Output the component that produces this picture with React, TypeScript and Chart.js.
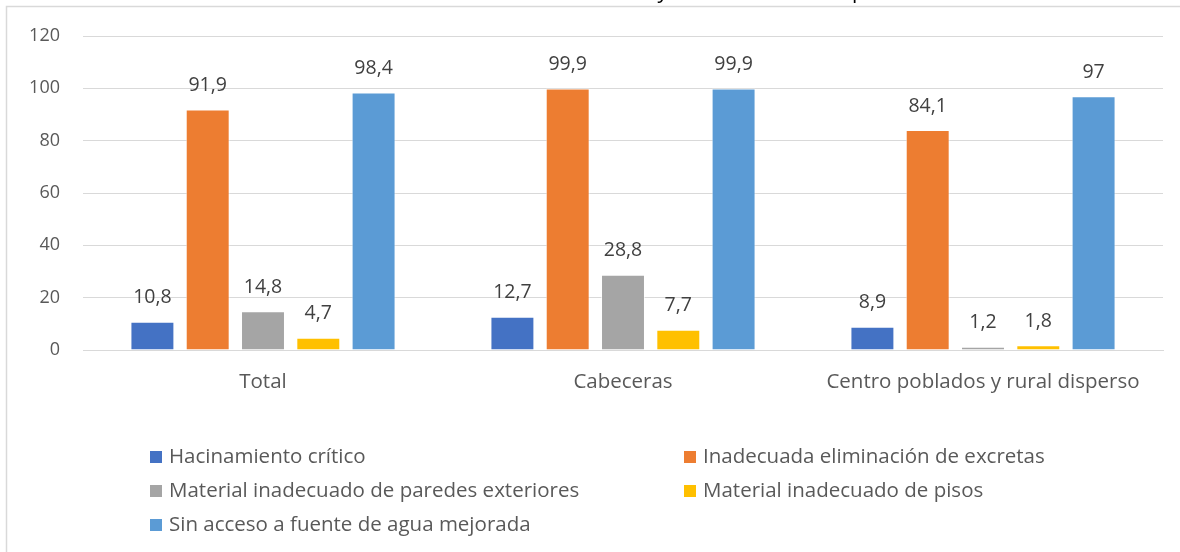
import React, { useEffect, useRef } from "react";
import { Chart, registerables } from "chart.js";

Chart.register(...registerables);

const categories = ["Total", "Cabeceras", "Centro poblados y rural disperso"];
const seriesNames = [
  "Hacinamiento crítico",
  "Inadecuada eliminación de excretas",
  "Material inadecuado de paredes exteriores",
  "Material inadecuado de pisos",
  "Sin acceso a fuente de agua mejorada",
];
const hacinamiento = [10.8, 12.7, 8.9];
const excretas = [91.9, 99.9, 84.1];
const paredes = [14.8, 28.8, 1.2];
const pisos = [4.7, 7.7, 1.8];
const agua = [98.4, 99.9, 97];
const seriesColors = ["#4472C4", "#ED7D31", "#A5A5A5", "#FFC000", "#5B9BD5"];
const yTicks = [0, 20, 40, 60, 80, 100, 120];
const titleText = "Privaciones en condiciones de la vivienda y acceso a servicios públicos";

const FONT = "'Open Sans', 'DejaVu Sans', sans-serif";

export default function App() {
  const ref = useRef<HTMLCanvasElement | null>(null);

  useEffect(() => {
    document.body.style.margin = "0";
    const canvas = ref.current;
    if (!canvas) return;
    const values = [hacinamiento, excretas, paredes, pisos, agua];

    const decor = {
      id: "decor",
      beforeDraw(chart: any) {
        const ctx = chart.ctx;
        ctx.save();
        ctx.fillStyle = "#ffffff";
        ctx.fillRect(0, 0, chart.width, chart.height);
        ctx.strokeStyle = "#d9d9d9";
        ctx.lineWidth = 1.5;
        ctx.beginPath();
        ctx.moveTo(6.5, chart.height + 5);
        ctx.lineTo(6.5, 6.5);
        ctx.lineTo(chart.width + 5, 6.5);
        ctx.stroke();
        ctx.font = `21px ${FONT}`;
        ctx.fillStyle = "#000000";
        ctx.textAlign = "center";
        ctx.textBaseline = "alphabetic";
        ctx.fillText(titleText, 592, -2);
        ctx.restore();
      },
      afterDatasetsDraw(chart: any) {
        const ctx = chart.ctx;
        ctx.save();
        ctx.font = `19.5px ${FONT}`;
        ctx.fillStyle = "#404040";
        ctx.textAlign = "center";
        ctx.textBaseline = "middle";
        chart.data.datasets.forEach((ds: any, di: number) => {
          const meta = chart.getDatasetMeta(di);
          meta.data.forEach((bar: any, i: number) => {
            const v = ds.data[i];
            ctx.fillText(String(v).replace(".", ","), bar.x, bar.y - 24);
          });
        });
        // legend
        ctx.font = `20.5px ${FONT}`;
        const cols = [150, 684];
        const rows = [457, 491, 525];
        ctx.textAlign = "left";
        seriesNames.forEach((name, i) => {
          const x = cols[i % 2];
          const y = rows[Math.floor(i / 2)];
          ctx.fillStyle = seriesColors[i];
          ctx.fillRect(x, y - 6, 12, 12);
          ctx.fillStyle = "#595959";
          ctx.fillText(name, x + 19, y);
        });
        ctx.restore();
      },
    };

    const chart = new Chart(canvas, {
      type: "bar",
      data: {
        labels: categories,
        datasets: seriesNames.map((name, i) => ({
          label: name,
          data: values[i],
          backgroundColor: seriesColors[i],
          borderColor: "rgba(255,255,255,0.6)",
          borderWidth: 1,
          categoryPercentage: 0.768,
          barPercentage: 0.795,
        })),
      },
      options: {
        animation: false,
        responsive: false,
        events: [],
        layout: { padding: { left: 0, right: 17, top: 36, bottom: 0 } },
        plugins: {
          legend: { display: false },
          tooltip: { enabled: false },
          title: { display: false },
        },
        scales: {
          x: {
            grid: { display: false, drawTicks: false },
            border: { display: true, color: "#d9d9d9", width: 1 },
            ticks: {
              color: "#595959",
              font: { family: FONT, size: 20.5 },
              padding: 20,
            },
            afterFit(scale: any) {
              scale.height = 202;
            },
          },
          y: {
            min: 0,
            max: 120,
            afterBuildTicks(scale: any) {
              scale.ticks = yTicks.map((v) => ({ value: v }));
            },
            grid: { color: "#d9d9d9", lineWidth: 1, drawTicks: false },
            border: { display: false },
            ticks: {
              color: "#595959",
              font: { family: FONT, size: 18 },
              padding: 23,
            },
            afterFit(scale: any) {
              scale.width = 83;
            },
          },
        },
      },
      plugins: [decor],
    });

    return () => chart.destroy();
  }, []);

  return (
    <div style={{ width: 1180, height: 552 }}>
      <canvas ref={ref} width={1180} height={552} style={{ display: "block" }} />
    </div>
  );
}
